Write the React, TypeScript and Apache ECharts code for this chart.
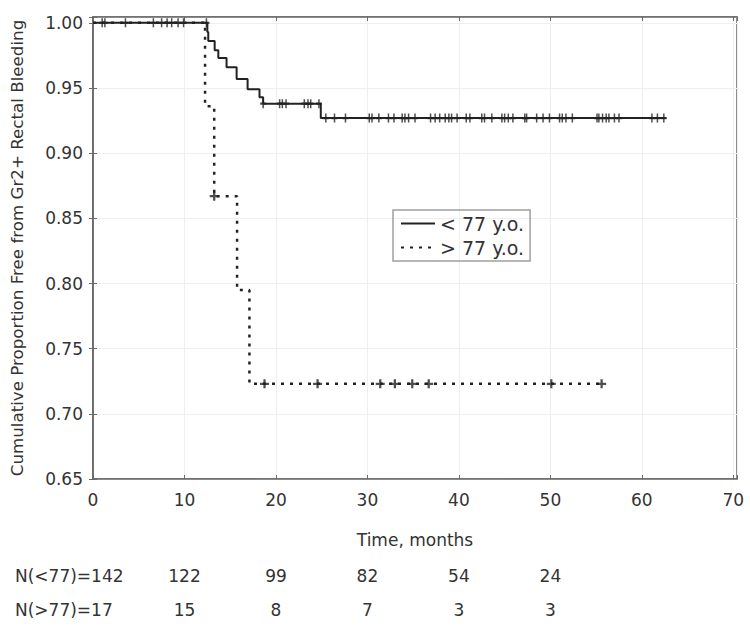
import React, { useEffect, useRef } from "react";
import * as echarts from "echarts";

// Kaplan–Meier step points [time (months), proportion free]
const youngSteps: [number, number][] = [
  [0, 1.0], [12.5, 0.993], [12.6, 0.986], [13.3, 0.979], [13.7, 0.973],
  [14.6, 0.966], [15.7, 0.957], [16.9, 0.949], [18.2, 0.943], [18.6, 0.938],
  [24.9, 0.927], [62.6, 0.927],
];
const oldSteps: [number, number][] = [
  [0, 1.0], [12.25, 0.936], [13.25, 0.867], [15.75, 0.795], [17.1, 0.723], [55.7, 0.723],
];
// censored observations (months)
const youngCensored: number[] = [
  1.0, 1.3, 3.55, 6.6, 7.5, 8.1, 8.6, 9.3, 9.9, 12.4,
  18.6, 20.4, 20.7, 21.1, 23.1, 23.5, 23.8, 24.7,
  25.45, 26.4, 27.6, 30.2, 30.5, 31.25, 32.3, 32.9, 33.8, 34.1, 34.5, 35.2,
  36.9, 37.4, 37.9, 38.5, 38.9, 39.2, 39.8, 40.8, 41.2, 42.5, 42.8, 43.6,
  44.7, 45.0, 45.4, 45.9, 47.2, 47.4, 48.5, 49.2, 49.9, 51.0, 51.3, 51.7,
  52.4, 55.1, 55.3, 55.7, 56.1, 56.4, 57.0, 57.5, 61.1, 61.7, 62.4,
];
const oldCensored: number[] = [13.25, 18.75, 24.55, 31.4, 33.0, 34.9, 36.7, 50.1, 55.6];

const seriesNames = ["< 77 y.o.", "> 77 y.o."];
const riskTimes = [10, 20, 30, 40, 50];
const riskYoung = [122, 99, 82, 54, 24];
const riskOld = [15, 8, 7, 3, 3];
const riskHeaders = ["N(<77)=142", "N(>77)=17"];
const xTitle = "Time, months";
const yTitle = "Cumulative Proportion Free from Gr2+ Rectal Bleeding";

const FONT = "DejaVu Sans";
const TXT = "#333";
const AX = "#6a6a6a";
const PLUS = "path://M3,0h2v3h3v2h-3v3h-2v-3h-3v-2h3z";

function valueAt(steps: [number, number][], t: number): number {
  let v = steps[0][1];
  for (const [st, sv] of steps) {
    if (st <= t) v = sv;
  }
  return v;
}

export default function App() {
  const ref = useRef<HTMLDivElement>(null);
  useEffect(() => {
    if (!ref.current) return;
    const chart = echarts.init(ref.current, undefined, { renderer: "svg" });
    const isMult = (v: number, step: number) => Math.abs(v / step - Math.round(v / step)) < 1e-6;
    const riskAxis = (vals: number[], offset: number) => ({
      type: "value", min: 0, max: 70.4, interval: 10, position: "bottom", offset,
      axisLine: { show: false }, axisTick: { show: false }, splitLine: { show: false },
      axisLabel: {
        margin: 0, fontSize: 17, fontFamily: FONT, color: TXT,
        formatter: (v: number) => {
          const i = riskTimes.findIndex((t) => Math.abs(t - v) < 1e-6);
          return i >= 0 ? String(vals[i]) : "";
        },
      },
    });
    chart.setOption({
      animation: false,
      backgroundColor: "#fff",
      grid: { left: 89, right: 13, top: 17, bottom: 150, show: true, borderColor: AX, borderWidth: 1.5 },
      xAxis: [
        {
          type: "value", min: 0, max: 70.4, interval: 10, position: "bottom",
          axisLine: { lineStyle: { color: AX, width: 1.5 } },
          axisTick: { inside: true, length: 4, lineStyle: { color: AX } },
          axisLabel: {
            margin: 12, fontSize: 17, fontFamily: FONT, color: TXT,
            formatter: (v: number) => (isMult(v, 10) ? String(v) : ""),
          },
          splitLine: { show: true, lineStyle: { color: "#efefef" } },
          name: xTitle, nameLocation: "middle", nameGap: 52,
          nameTextStyle: { fontSize: 17, fontFamily: FONT, color: TXT },
        },
        {
          type: "value", min: 0, max: 70.4, interval: 10, position: "top",
          axisLine: { lineStyle: { color: AX, width: 1.5 } },
          axisTick: { inside: true, length: 4, lineStyle: { color: AX } },
          axisLabel: { show: false }, splitLine: { show: false },
        },
        riskAxis(riskYoung, 88),
        riskAxis(riskOld, 122),
      ],
      yAxis: [
        {
          type: "value", min: 0.65, max: 1.0045, interval: 0.05, position: "left",
          axisLine: { lineStyle: { color: AX, width: 1.5 } },
          axisTick: { inside: true, length: 4, lineStyle: { color: AX } },
          axisLabel: {
            margin: 10, fontSize: 17, fontFamily: FONT, color: TXT,
            formatter: (v: number) => (isMult(v, 0.05) ? v.toFixed(2) : ""),
          },
          splitLine: { show: true, lineStyle: { color: "#efefef" } },
          name: yTitle, nameLocation: "middle", nameGap: 68,
          nameTextStyle: { fontSize: 16.7, fontFamily: FONT, color: TXT },
        },
        {
          type: "value", min: 0.65, max: 1.0045, interval: 0.05, position: "right",
          axisLine: { lineStyle: { color: AX, width: 1.5 } },
          axisTick: { inside: true, length: 4, lineStyle: { color: AX } },
          axisLabel: { show: false }, splitLine: { show: false },
        },
      ],
      legend: {
        data: seriesNames, orient: "vertical", left: 393, top: 210,
        borderColor: "#a0a0a0", borderWidth: 1.5, padding: [4, 6, 4, 7],
        itemWidth: 34, itemHeight: 18, itemGap: 5,
        itemStyle: { color: "rgba(0,0,0,0)", borderColor: "rgba(0,0,0,0)", borderWidth: 0 },
        textStyle: { fontSize: 19, fontFamily: FONT, color: TXT },
      },
      graphic: riskHeaders.map((h, i) => ({
        type: "text", left: 15, top: 567 + i * 34,
        style: { text: h, fontSize: 17, fontFamily: FONT, fill: TXT },
      })),
      series: [
        {
          name: seriesNames[0], type: "line", step: "end", data: youngSteps, symbol: "none",
          lineStyle: { color: "#222", width: 2 }, itemStyle: { color: "#222" },
        },
        {
          name: seriesNames[1], type: "line", step: "end", data: oldSteps, symbol: "none",
          lineStyle: { color: "#222", width: 2.5, type: [3, 6] }, itemStyle: { color: "#222" },
        },
        {
          type: "scatter", data: youngCensored.map((t) => [t, valueAt(youngSteps, t)]),
          symbol: PLUS, symbolSize: [6, 9], itemStyle: { color: "#222" }, z: 3,
        },
        {
          type: "scatter", data: oldCensored.map((t) => [t, valueAt(oldSteps, t)]),
          symbol: PLUS, symbolSize: 9, itemStyle: { color: "#222" }, z: 3,
        },
      ],
    });
    return () => chart.dispose();
  }, []);
  return <div ref={ref} style={{ position: "absolute", left: 0, top: 0, width: 750, height: 629 }} />;
}
